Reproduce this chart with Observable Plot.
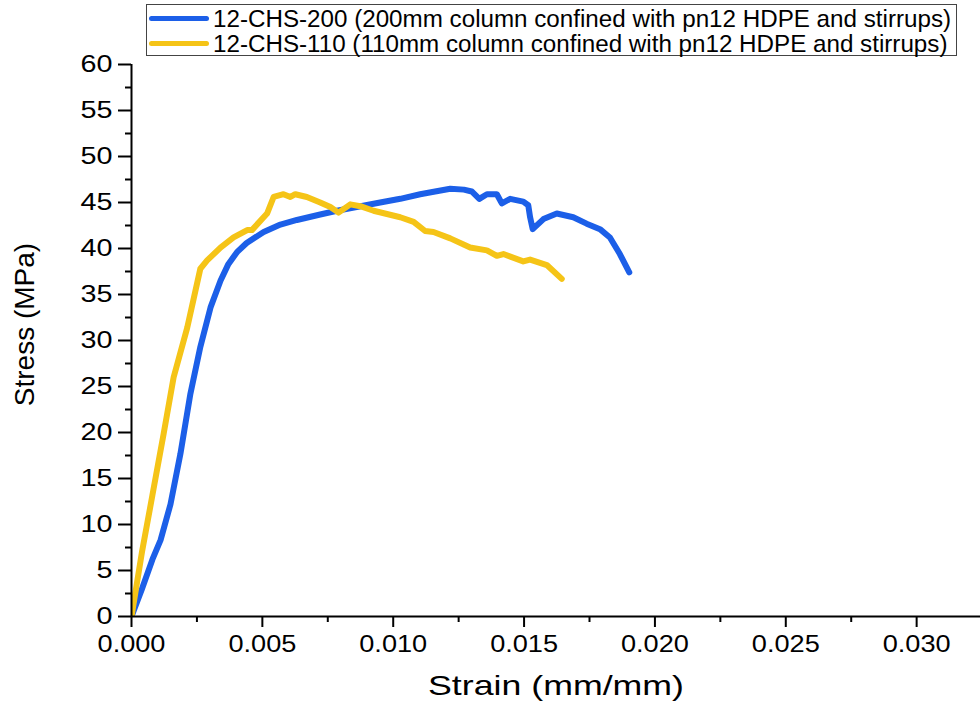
<!DOCTYPE html>
<html>
<head>
<meta charset="utf-8">
<script src="https://cdn.jsdelivr.net/npm/d3@7"></script>
<script src="https://cdn.jsdelivr.net/npm/@observablehq/plot@0.6"></script>
<style>
  html, body { margin: 0; padding: 0; background: #fff; }
  #wrap { position: relative; width: 980px; height: 707px; font-family: "Liberation Sans", Arial, sans-serif; color: #000; }
  #legend { position: absolute; left: 146px; top: 4px; width: 811px; height: 52px; border: 1px solid #444; background: #fff; box-sizing: border-box; }
  .row { position: absolute; left: 0; height: 25px; display: flex; align-items: center; white-space: nowrap; }
  .sw { width: 60px; height: 5px; border-radius: 3px; margin-left: 2px; margin-right: 4px; }
  .lt { font-size: 24.2px; }
</style>
</head>
<body>
<div id="wrap"><div id="chart"></div><div id="legend"></div></div>
<script>
// ---- data ----
const seriesNames = [
  "12-CHS-200 (200mm column confined with pn12 HDPE and stirrups)",
  "12-CHS-110 (110mm column confined with pn12 HDPE and stirrups)"
];
const seriesColors = ["#1c5fe8", "#f5c417"];

const strain200 = [0, 0.0004, 0.0008, 0.00111, 0.00149, 0.00187, 0.00225, 0.00263, 0.00302, 0.0034, 0.0037, 0.00403, 0.0044, 0.00505, 0.00569, 0.00632, 0.00721, 0.00785, 0.0095, 0.01027, 0.01103, 0.0116, 0.01218, 0.0127, 0.013, 0.01329, 0.01358, 0.01396, 0.01415, 0.01447, 0.01497, 0.01516, 0.01523, 0.01533, 0.01574, 0.01625, 0.01688, 0.01739, 0.0179, 0.01828, 0.01866, 0.01902];
const stress200 = [0, 3.0, 6.2, 8.3, 12.2, 17.7, 24.2, 29.3, 33.6, 36.5, 38.3, 39.6, 40.6, 41.8, 42.6, 43.1, 43.7, 44.1, 45.0, 45.4, 45.9, 46.2, 46.5, 46.4, 46.2, 45.4, 45.9, 45.9, 44.9, 45.4, 45.1, 44.7, 43.4, 42.1, 43.2, 43.8, 43.4, 42.7, 42.1, 41.2, 39.4, 37.4];

const strain110 = [0, 0.0004, 0.0008, 0.00123, 0.00161, 0.00213, 0.00263, 0.00289, 0.0034, 0.0039, 0.00442, 0.0046, 0.00518, 0.00543, 0.00581, 0.00607, 0.00626, 0.0067, 0.00721, 0.0076, 0.00791, 0.00836, 0.00874, 0.00925, 0.01027, 0.01078, 0.01122, 0.01154, 0.01218, 0.01294, 0.01358, 0.01396, 0.01421, 0.01497, 0.01523, 0.01587, 0.01644];
const stress110 = [0, 7.0, 13.2, 19.9, 26.0, 31.4, 37.8, 38.7, 40.1, 41.2, 42.0, 42.0, 43.8, 45.6, 45.9, 45.6, 45.9, 45.6, 45.0, 44.5, 43.9, 44.8, 44.6, 44.1, 43.4, 42.9, 41.9, 41.8, 41.1, 40.1, 39.8, 39.2, 39.4, 38.6, 38.8, 38.2, 36.7];

const xMajorTicks = [0, 0.005, 0.010, 0.015, 0.020, 0.025, 0.030];
const xMinorTicks = [0.0025, 0.0075, 0.0125, 0.0175, 0.0225, 0.0275, 0.0325];
const yMajorTicks = [0, 5, 10, 15, 20, 25, 30, 35, 40, 45, 50, 55, 60];
const yMinorTicks = [2.5, 7.5, 12.5, 17.5, 22.5, 27.5, 32.5, 37.5, 42.5, 47.5, 52.5, 57.5];
const xTitle = "Strain (mm/mm)";
const yTitle = "Stress (MPa)";

// ---- build ----
const rows = [
  ...strain200.map((x, i) => ({x, y: stress200[i], s: seriesNames[0]})),
  ...strain110.map((x, i) => ({x, y: stress110[i], s: seriesNames[1]}))
];

const chart = Plot.plot({
  width: 980,
  height: 707,
  marginTop: 64,
  marginBottom: 91,
  marginLeft: 131,
  marginRight: 0,
  style: {fontFamily: '"Liberation Sans", Arial, sans-serif', color: "#000", background: "#fff", overflow: "visible"},
  x: {domain: [0, 0.03244], axis: null},
  y: {domain: [0, 60], axis: null},
  color: {domain: seriesNames, range: seriesColors},
  marks: [
    Plot.line(rows, {x: "x", y: "y", z: "s", stroke: "s", strokeWidth: 6, strokeLinejoin: "round", strokeLinecap: "round", clip: true}),
    Plot.ruleY([0], {stroke: "#000", strokeWidth: 2}),
    Plot.ruleX([0], {y1: 0, y2: 60, stroke: "#000", strokeWidth: 2}),
    Plot.axisY(yMajorTicks, {tickSize: 13, tickPadding: 6, fontSize: 23, strokeWidth: 2, label: null, tickFormat: d => String(d)}),
    Plot.axisY(yMinorTicks, {tickSize: 6, strokeWidth: 2, label: null, tickFormat: () => ""}),
    Plot.axisX(xMajorTicks, {tickSize: 11, tickPadding: 8, fontSize: 23, strokeWidth: 2, label: null, tickFormat: d3.format(".3f")}),
    Plot.axisX(xMinorTicks, {tickSize: 6, strokeWidth: 2, label: null, tickFormat: () => ""}),
    Plot.text([xTitle], {frameAnchor: "bottom", dy: 78, fontSize: 28, text: d => d}),
    Plot.text([yTitle], {frameAnchor: "left", textAnchor: "middle", dx: -106, dy: -16, rotate: -90, fontSize: 28, text: d => d})
  ]
});
document.getElementById("chart").appendChild(chart);

// widen horizontal texts to the reference's proportions
function stretch(selector, factor) {
  chart.querySelectorAll(selector).forEach(t => {
    const w = t.getComputedTextLength();
    if (w > 0) {
      t.setAttribute("textLength", (w * factor).toFixed(1));
      t.setAttribute("lengthAdjust", "spacingAndGlyphs");
    }
  });
}
stretch('g[aria-label="y-axis tick label"] text', 1.25);
stretch('g[aria-label="x-axis tick label"] text', 1.18);
chart.querySelectorAll('g[aria-label="text"] text').forEach(t => {
  if (t.textContent === xTitle) {
    t.setAttribute("textLength", "256");
    t.setAttribute("lengthAdjust", "spacingAndGlyphs");
  }
});

// ---- legend ----
const legend = document.getElementById("legend");
seriesNames.forEach((name, i) => {
  const row = document.createElement("div");
  row.className = "row";
  row.style.top = (1 + i * 25) + "px";
  const sw = document.createElement("div");
  sw.className = "sw";
  sw.style.background = seriesColors[i];
  const t = document.createElement("span");
  t.className = "lt";
  t.textContent = name;
  row.appendChild(sw);
  row.appendChild(t);
  legend.appendChild(row);
});
</script>
</body>
</html>
